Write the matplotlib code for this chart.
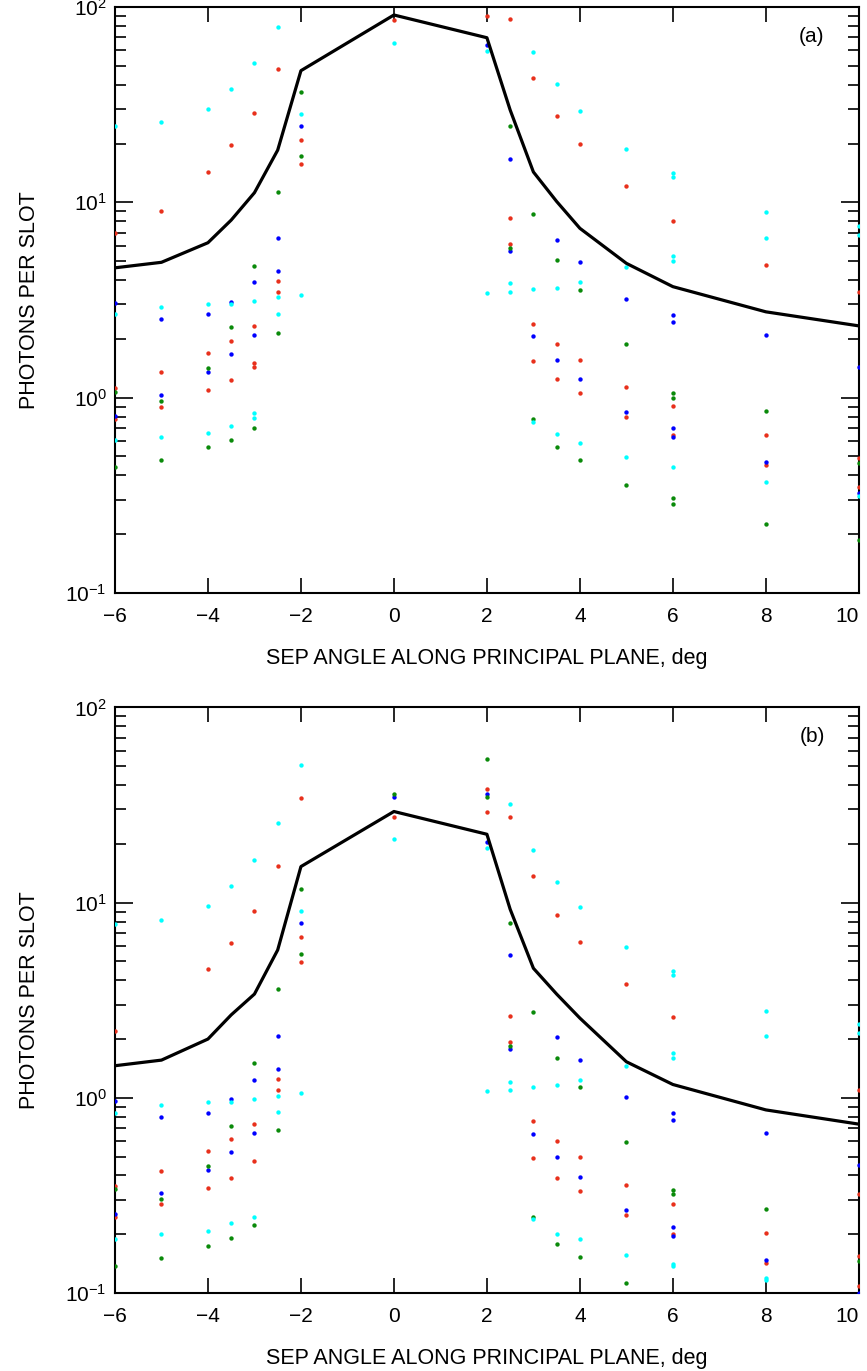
import numpy as np
import matplotlib.pyplot as plt
from matplotlib.ticker import LogLocator, NullFormatter

plt.rcParams['font.family'] = ['Liberation Sans', 'DejaVu Sans']

# separation angles, deg
x_pos = [-6, -5, -4, -3.5, -3, -2.5, -2, 0, 2, 2.5, 3, 3.5, 4, 5, 6, 8, 10]

# black curve
a_line = [4.62, 4.93, 6.21, 8.11, 11.2, 18.5, 47.2, 91, 69.6, 29.7, 14.3, 10.1, 7.36, 4.87, 3.70, 2.75, 2.33]
b_line = [1.46, 1.56, 2.0, 2.66, 3.40, 5.72, 15.3, 29.3, 22.4, 9.25, 4.61, 3.4, 2.56, 1.53, 1.17, 0.867, 0.733]

# panel (a) dots, one list per x position
a_red = [[6.94, 1.12, 0.774], [9.06, 1.35, 0.895], [14.3, 1.70, 1.09], [19.6, 1.96, 1.23],
         [28.8, 2.33, 1.50, 1.43], [48.3, 3.95, 3.47], [20.8, 15.7], [85.8], [90.3],
         [86.5, 8.28, 6.09], [43.3, 2.39, 1.54], [27.6, 1.89, 1.25], [19.9, 1.56, 1.06],
         [12.1, 1.14, 0.799], [8.02, 0.906, 0.644], [4.80, 0.644, 0.454], [3.46, 0.488, 0.348]]
a_blue = [[3.06, 0.805], [2.53, 1.03], [2.69, 1.36], [3.10, 1.67], [3.89, 2.10], [6.59, 4.43],
          [24.6], [], [64.1], [16.7, 5.61], [2.08], [6.41, 1.56], [4.95, 1.24], [3.20, 0.841],
          [2.66, 2.44, 0.70, 0.627], [2.10, 0.466], [1.43, 0.324]]
a_green = [[1.07, 0.44], [0.964, 0.48], [1.41, 0.556], [2.29, 0.604], [4.72, 0.70], [11.3, 2.15],
           [36.7, 17.3], [], [], [24.7, 5.83], [8.74, 0.774], [5.05, 0.561], [3.57, 0.478],
           [1.88, 0.358], [1.06, 1.0, 0.308, 0.285], [0.853, 0.225], [0.462, 0.187]]
a_cyan = [[24.6, 2.69, 0.604], [25.9, 2.92, 0.63], [30.1, 3.02, 0.659], [38.2, 3.02, 0.718],
          [51.9, 3.11, 0.83, 0.783], [79.3, 3.26, 2.69], [28.2, 3.34], [65.6], [59.6, 3.42],
          [3.85, 3.47], [58.6, 3.58, 0.75], [40.3, 3.65, 0.648], [29.4, 3.91, 0.589],
          [18.8, 4.69, 0.498], [14.2, 13.5, 5.33, 5.01, 0.441], [8.89, 6.56, 0.368], [7.56, 6.78, 0.313]]

# panel (b) dots
b_red = [[2.20, 0.355, 0.245], [0.423, 0.285], [4.56, 0.532, 0.344], [6.24, 0.618, 0.39],
         [9.1, 0.735, 0.473], [15.4, 1.25, 1.10], [34.4, 6.65, 4.95], [27.6], [38.2, 29.1],
         [27.6, 2.63, 1.93], [13.7, 0.759, 0.489], [8.68, 0.600, 0.39], [6.27, 0.496, 0.333],
         [3.83, 0.358, 0.25], [2.58, 0.286, 0.201], [0.203, 0.143], [1.10, 0.321, 0.154, 0.109]]
b_blue = [[0.968, 0.253], [0.798, 0.324], [0.84, 0.427], [0.99, 0.526], [1.24, 0.659], [2.08, 1.41],
          [7.87], [34.7], [36.2, 20.4], [5.37, 1.78], [0.656], [2.04, 0.50], [1.57, 0.394],
          [1.01, 0.267], [0.834, 0.767, 0.218, 0.197], [0.663, 0.148], [0.452, 0.1]]
b_green = [[0.34, 0.138], [0.303, 0.151], [0.445, 0.175], [0.721, 0.191], [1.50, 0.224], [3.61, 0.685],
           [11.7, 5.48], [35.9], [54.7, 34.8], [7.9, 1.85], [2.74, 0.245], [1.60, 0.179], [1.13, 0.152],
           [0.592, 0.112], [0.337, 0.322], [0.27], [0.145]]
b_cyan = [[7.78, 0.84, 0.189], [8.15, 0.92, 0.201], [9.65, 0.949, 0.207], [12.2, 0.95, 0.227],
          [16.6, 0.987, 0.246], [25.6, 1.02, 0.847], [50.9, 9.06, 1.06], [21.1], [19.1, 1.08],
          [32.1, 1.21, 1.10], [18.5, 1.13, 0.238], [12.8, 1.16, 0.20], [9.47, 1.24, 0.188],
          [5.95, 1.46, 0.157], [4.48, 4.28, 1.69, 1.60, 0.140, 0.137], [2.80, 2.08, 0.119, 0.116], [2.39, 2.14]]

xticks = [-6, -4, -2, 0, 2, 4, 6, 8, 10]
xlabel = 'SEP ANGLE ALONG PRINCIPAL PLANE, deg'
ylabel = 'PHOTONS PER SLOT'

colors = {'red': '#e8301c', 'blue': '#0000ff', 'green': '#0a8a0a', 'cyan': '#00ffff'}


def flat(groups):
    xs, ys = [], []
    for x, vals in zip(x_pos, groups):
        for v in vals:
            xs.append(x)
            ys.append(v)
    return xs, ys


def draw_panel(ax, line, dots, tag):
    for name, groups in dots:
        xs, ys = flat(groups)
        ax.scatter(xs, ys, s=10, color=colors[name], linewidths=0, zorder=3)
    ax.plot(x_pos, line, color='black', lw=2.3, zorder=4)
    ax.set_yscale('log')
    ax.set_xlim(-6, 10)
    ax.set_ylim(0.1, 100)
    ax.set_xticks(xticks)
    ax.set_xticklabels(['\u2212' + str(-t) if t < 0 else str(t) for t in xticks])
    # last label sits against the figure edge
    ax.get_xticklabels()[-1].set_ha('right')
    ax.yaxis.set_major_locator(LogLocator(base=10, numticks=10))
    ax.yaxis.set_minor_locator(LogLocator(base=10, subs=np.arange(2, 10), numticks=10))
    ax.yaxis.set_minor_formatter(NullFormatter())
    ax.tick_params(which='both', direction='in', top=True, right=True, labelsize=15, width=1.2)
    ax.tick_params(which='major', length=13)
    ax.tick_params(which='minor', length=8)
    ax.tick_params(axis='x', which='major', length=11, pad=10)
    ax.tick_params(axis='y', pad=6)
    for s in ax.spines.values():
        s.set_linewidth(1.5)
    ax.set_xlabel(xlabel, fontsize=15.5, labelpad=16)
    ax.set_ylabel(ylabel, fontsize=15.5, labelpad=18)
    ax.text(0.937, 0.95, tag, transform=ax.transAxes, fontsize=15, ha='center', va='center')


fig = plt.figure(figsize=(8.67, 13.71), dpi=100)
ax1 = fig.add_axes([0.1326, 0.5675, 0.858, 0.4274])
ax2 = fig.add_axes([0.1326, 0.0569, 0.858, 0.4271])

draw_panel(ax1, a_line, [('red', a_red), ('blue', a_blue), ('green', a_green), ('cyan', a_cyan)], '(a)')
draw_panel(ax2, b_line, [('red', b_red), ('blue', b_blue), ('green', b_green), ('cyan', b_cyan)], '(b)')

fig.savefig('out.png', dpi=100)
